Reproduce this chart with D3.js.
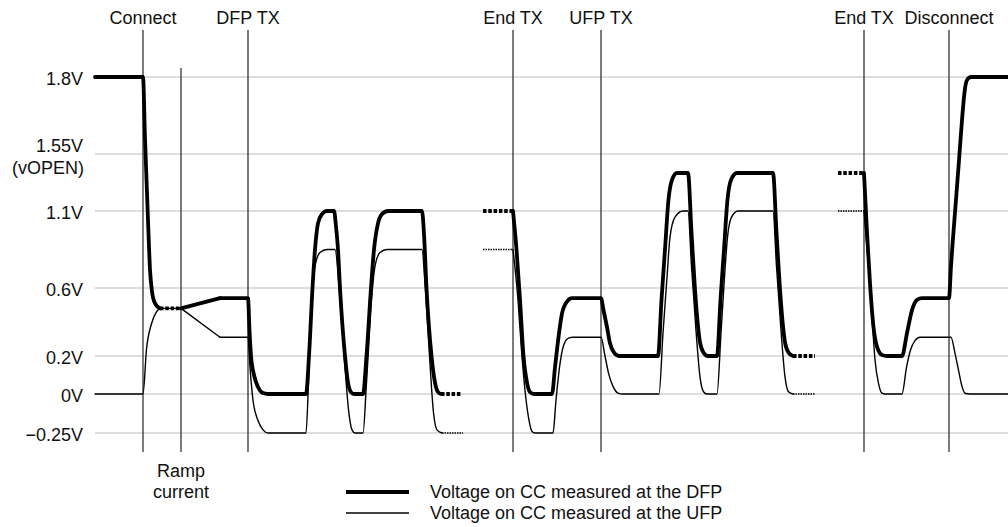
<!DOCTYPE html>
<html>
<head>
<meta charset="utf-8">
<script src="https://cdn.jsdelivr.net/npm/d3@7"></script>
<style>
  body { margin: 0; background: #fff; }
  svg { display: block; }
  text { font-family: Arial, "Liberation Sans", sans-serif; font-size: 18px; fill: #111; }
</style>
</head>
<body>
<div id="chart"></div>
<script>
// y axis levels (volts) and their labels
const yTicks = [1.8, 1.55, 1.1, 0.6, 0.2, 0, -0.25];
const yTickLabels = ['1.8V', '1.55V', '1.1V', '0.6V', '0.2V', '0V', '\u22120.25V'];
const yTickNotes = ['', '(vOPEN)', '', '', '', '', ''];

// events along the time axis (arbitrary time units)
const eventNames = ['Connect', 'Ramp current', 'DFP TX', 'End TX', 'UFP TX', 'End TX', 'Disconnect'];
const eventTimes = [4.8, 8.6, 15.3, 41.8, 50.6, 76.9, 85.4];

// voltage on CC at the DFP, smooth pieces [time, volts]
const dfpTraces = [
  [[0, 1.8], [4.8, 1.8], [5.0, 1.6], [5.3, 1.04], [5.5, 0.72], [5.7, 0.58], [6.0, 0.51], [6.5, 0.48]],
  [[12.5, 0.54], [15.3, 0.54], [15.45, 0.35], [15.6, 0.2], [15.9, 0.1], [16.3, 0.037], [16.8, 0.005], [17.3, 0],
   [21.1, 0], [21.4, 0.2], [21.75, 0.6], [22.0, 0.85], [22.3, 1.02], [22.7, 1.08], [23.2, 1.1],
   [23.9, 1.1], [24.1, 1.0], [24.3, 0.85], [24.5, 0.6], [25.0, 0.2], [25.3, 0.06], [25.6, 0.01], [25.9, 0],
   [26.8, 0], [27.15, 0.2], [27.6, 0.6], [27.9, 0.85], [28.3, 1.02], [28.7, 1.08], [29.3, 1.1],
   [32.7, 1.1], [32.9, 0.95], [33.15, 0.6], [33.65, 0.2], [34.0, 0.06], [34.3, 0.01], [34.6, 0]],
  [[41.8, 1.1], [42.15, 0.85], [42.5, 0.53], [42.85, 0.2], [43.2, 0.06], [43.5, 0.01], [43.9, 0],
   [45.7, 0], [46.0, 0.14], [46.35, 0.31], [46.7, 0.45], [47.2, 0.52], [47.7, 0.54],
   [50.6, 0.54], [50.85, 0.47], [51.2, 0.37], [51.5, 0.275], [51.85, 0.225], [52.4, 0.2],
   [56.3, 0.2], [56.65, 0.53], [57.0, 0.85], [57.35, 1.19], [57.7, 1.345], [58.2, 1.4],
   [59.3, 1.4], [59.65, 0.96], [60.0, 0.59], [60.5, 0.28], [60.85, 0.22], [61.3, 0.2],
   [62.2, 0.2], [62.55, 0.53], [62.9, 0.85], [63.25, 1.19], [63.6, 1.345], [64.2, 1.4],
   [67.8, 1.4], [68.15, 0.96], [68.5, 0.59], [69.0, 0.28], [69.35, 0.22], [69.8, 0.2]],
  [[76.9, 1.4], [77.2, 0.96], [77.5, 0.63], [77.85, 0.37], [78.2, 0.255], [78.7, 0.206], [79.2, 0.2],
   [80.7, 0.2], [81.2, 0.335], [81.7, 0.47], [82.2, 0.53], [82.7, 0.54],
   [85.4, 0.54], [85.6, 0.74], [86.1, 1.19], [86.4, 1.5], [86.7, 1.66], [86.95, 1.75], [87.2, 1.79], [87.6, 1.8], [91.3, 1.8]]
];
// straight ramp while the current source ramps
const dfpRamps = [[[8.6, 0.48], [12.5, 0.54]]];

// voltage on CC at the UFP, smooth pieces [time, volts]
const ufpTraces = [
  [[0, 0], [4.8, 0], [5.15, 0.24], [5.65, 0.39], [6.15, 0.46], [6.6, 0.48], [8.6, 0.48]],
  [[12.5, 0.31], [15.3, 0.31], [15.5, 0.14], [15.8, -0.04], [16.3, -0.17], [16.8, -0.23], [17.3, -0.25],
   [21.1, -0.25], [21.35, 0.06], [21.65, 0.53], [22.0, 0.74], [22.5, 0.83], [23.2, 0.85],
   [24.0, 0.85], [24.5, 0.53], [25.0, 0.14], [25.35, -0.1], [25.7, -0.23], [26.0, -0.25],
   [26.8, -0.25], [27.15, 0.06], [27.65, 0.53], [28.0, 0.74], [28.5, 0.83], [29.2, 0.85],
   [32.7, 0.85], [33.0, 0.63], [33.45, 0.2], [33.85, -0.12], [34.2, -0.23], [34.7, -0.25]],
  [[41.8, 0.85], [42.3, 0.53], [42.65, 0.235], [43.0, 0.02], [43.35, -0.15], [43.7, -0.24], [44.0, -0.25],
   [45.8, -0.25], [46.1, -0.04], [46.45, 0.14], [46.85, 0.26], [47.35, 0.305], [47.8, 0.31],
   [50.6, 0.31], [51.0, 0.2], [51.35, 0.11], [51.8, 0.04], [52.3, 0.005], [52.8, 0],
   [56.4, 0], [56.8, 0.335], [57.2, 0.67], [57.5, 0.93], [58.0, 1.06], [58.8, 1.1],
   [59.3, 1.1], [59.65, 0.74], [60.1, 0.35], [60.5, 0.09], [60.85, 0.012], [61.2, 0],
   [62.2, 0], [62.6, 0.335], [62.95, 0.67], [63.25, 0.93], [63.65, 1.06], [64.3, 1.1],
   [67.8, 1.1], [68.15, 0.74], [68.6, 0.35], [69.0, 0.09], [69.35, 0.012], [69.8, 0]],
  [[76.9, 1.1], [77.35, 0.74], [77.7, 0.43], [78.0, 0.18], [78.35, 0.056], [78.7, 0.004], [79.0, 0],
   [80.7, 0], [81.15, 0.14], [81.55, 0.235], [82.0, 0.29], [82.5, 0.31],
   [85.6, 0.31], [86.0, 0.216], [86.35, 0.126], [86.7, 0.04], [87.0, 0.004], [87.5, 0], [91.3, 0]]
];
const ufpRamps = [[[8.6, 0.48], [12.5, 0.31]]];

// dotted pieces (undetermined state)
const dfpDotted = [
  [[6.5, 0.48], [8.6, 0.48]], [[34.6, 0], [36.7, 0]], [[38.8, 1.1], [41.8, 1.1]],
  [[69.8, 0.2], [72.0, 0.2]], [[74.3, 1.4], [76.9, 1.4]]
];
const ufpDotted = [
  [[34.7, -0.25], [36.8, -0.25]], [[38.8, 0.85], [41.8, 0.85]],
  [[69.8, 0], [72.0, 0]], [[74.3, 1.1], [76.9, 1.1]]
];

const legendLabels = ['Voltage on CC measured at the DFP', 'Voltage on CC measured at the UFP'];

// ---------------------------------------------------------------------------
const width = 1008;
const height = 527;
const thick = 3.8;
const thin = 1.4;

const x = d3.scaleLinear().domain([0, 91.3]).range([95, 1008]);
// the voltage axis is not linear in the drawing: each band has its own height
const y = d3.scaleLinear()
  .domain([-0.25, 0, 0.2, 0.6, 1.1, 1.55, 1.8])
  .range([433, 394, 356, 288, 211, 154, 77]);

const svg = d3.select('#chart').append('svg')
  .attr('width', width)
  .attr('height', height);

// gridlines
svg.append('g').attr('class', 'grid')
  .selectAll('line')
  .data(yTicks)
  .enter()
  .append('line')
  .attr('x1', x(0))
  .attr('x2', width)
  .attr('y1', d => y(d))
  .attr('y2', d => y(d))
  .attr('stroke', '#d2d2d2')
  .attr('stroke-width', 1.5);

// y labels
const yLab = svg.append('g').attr('class', 'y-labels')
  .selectAll('text')
  .data(yTicks)
  .enter()
  .append('text')
  .attr('text-anchor', 'end')
  .attr('x', 83)
  .attr('y', (d, i) => yTickNotes[i] ? y(d) - 2 : y(d) + 8);
yLab.append('tspan').text((d, i) => yTickLabels[i]);
yLab.filter((d, i) => yTickNotes[i])
  .append('tspan')
  .attr('x', 84)
  .attr('dy', 22)
  .text(d => yTickNotes[yTicks.indexOf(d)]);

// event markers
const ev = svg.append('g').attr('class', 'events')
  .selectAll('g')
  .data(eventTimes)
  .enter()
  .append('g');

ev.append('line')
  .attr('x1', d => x(d))
  .attr('x2', d => x(d))
  .attr('y1', (d, i) => i === 1 ? 68 : 30)
  .attr('y2', 452)
  .attr('stroke', '#222')
  .attr('stroke-width', 1.2);

ev.filter((d, i) => i !== 1)
  .append('text')
  .attr('text-anchor', 'middle')
  .attr('x', d => x(d))
  .attr('y', 24)
  .text(d => eventNames[eventTimes.indexOf(d)]);

// "Ramp current" goes under the plot on two lines
const ramp = svg.append('text')
  .attr('text-anchor', 'middle')
  .attr('y', 477);
eventNames[1].split(' ').forEach((w, i) => {
  ramp.append('tspan')
    .attr('x', x(eventTimes[1]))
    .attr('dy', i ? 21 : 0)
    .text(w);
});

// traces
const smooth = d3.line()
  .x(d => x(d[0]))
  .y(d => y(d[1]))
  .curve(d3.curveMonotoneX);

const straight = d3.line()
  .x(d => x(d[0]))
  .y(d => y(d[1]));

function drawPieces(cls, data, gen, w, dash) {
  svg.append('g').attr('class', cls)
    .selectAll('path')
    .data(data)
    .enter()
    .append('path')
    .attr('d', gen)
    .attr('fill', 'none')
    .attr('stroke', '#000')
    .attr('stroke-width', w)
    .attr('stroke-linejoin', 'round')
    .attr('stroke-linecap', dash ? 'butt' : 'round')
    .attr('stroke-dasharray', dash);
}

drawPieces('ufp', ufpTraces, smooth, thin, null);
drawPieces('ufp-ramp', ufpRamps, straight, thin, null);
drawPieces('ufp-dotted', ufpDotted, straight, thin, '1.5,1');
drawPieces('dfp', dfpTraces, smooth, thick, null);
drawPieces('dfp-ramp', dfpRamps, straight, thick, null);
drawPieces('dfp-dotted', dfpDotted, straight, thick, '3.5,1.8');

// legend
const leg = svg.append('g').attr('class', 'legend')
  .selectAll('g')
  .data(legendLabels)
  .enter()
  .append('g')
  .attr('transform', (d, i) => `translate(346, ${492 + i * 21})`);

leg.append('line')
  .attr('x1', 0)
  .attr('x2', 63)
  .attr('stroke', '#000')
  .attr('stroke-width', (d, i) => i ? thin : thick);

leg.append('text')
  .attr('x', 84)
  .attr('y', 6)
  .text(d => d);
</script>
</body>
</html>
